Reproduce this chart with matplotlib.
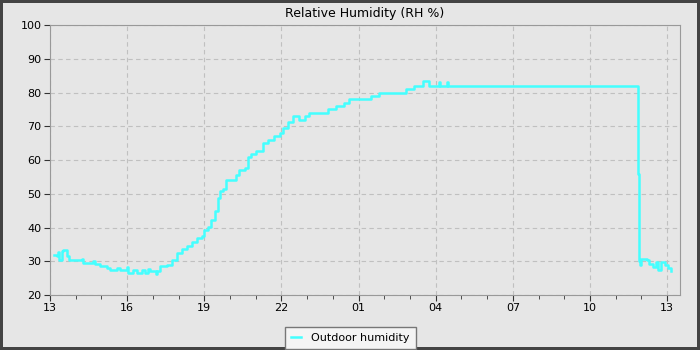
import matplotlib
matplotlib.use('Agg')
import matplotlib.pyplot as plt
from matplotlib.ticker import MultipleLocator, FuncFormatter

# hours since 13:00 and outdoor relative humidity (%)
hours = [0.16, 0.26, 0.32, 0.37, 0.45, 0.5, 0.65, 0.75, 1.23, 1.3, 1.69, 1.75, 1.95, 2.2,
         2.33, 2.6, 2.72, 2.98, 3.05, 3.24, 3.37, 3.57, 3.7, 3.83, 3.89, 4.13, 4.17, 4.28,
         4.54, 4.73, 4.93, 5.12, 5.32, 5.51, 5.7, 5.9, 5.99, 6.14, 6.27, 6.4, 6.53, 6.6,
         6.73, 6.86, 7.05, 7.24, 7.37, 7.57,
         7.7, 7.83, 8.02, 8.28, 8.47, 8.73, 8.93, 9.06, 9.25, 9.44, 9.64, 9.7, 9.9, 10.09,
         10.67, 10.8, 11.13, 11.45, 11.64, 12.42, 12.48, 12.81, 13.78, 13.84, 14.17, 14.49,
         14.75, 15.12, 15.16, 15.45, 15.49, 22.86, 22.88, 22.9, 22.94, 23.0, 23.2, 23.3,
         23.45, 23.56, 23.65, 23.78, 23.9, 24.04, 24.17]
humidity = [32, 31.5, 32.8, 30.3, 33, 33.3, 31.5, 30.5, 30.7, 29.5, 30, 29.2, 28.5, 28,
            27.5, 28, 27.5, 28.2, 26.5, 27.3, 26.5, 27.3, 26.5, 27.7, 27, 26.3, 27, 28.5,
            29, 30.4, 32.4, 33.5, 34.4, 35.7, 37, 37.5, 39.3, 40.3, 42.3, 44.8, 48.7, 50.7,
            51.5, 54.2, 54, 55.6, 57, 57.5,
            61, 61.8, 62.8, 65, 66, 67, 68, 69.4, 71.4, 73, 73, 72, 73, 74,
            74, 75, 76, 77, 78, 78, 79, 80, 80, 81, 82, 83.3,
            82, 83, 82, 83, 82, 82, 56, 30, 29, 30.7, 30.4, 29.1,
            28.4, 29.7, 27.4, 29.7, 28.9, 27.9, 27.1]

fig = plt.figure(figsize=(7, 3.5), dpi=100, facecolor='#e6e6e6',
                 edgecolor='#444444', linewidth=3)
ax = fig.add_axes([0.0714, 0.157, 0.9, 0.7716], facecolor='#e6e6e6')

ax.plot(hours, humidity, color='#44ffff', linewidth=1.8, drawstyle='steps-post',
        label='Outdoor humidity')

ax.set_xlim(0, 24.5)
ax.set_ylim(20, 100)
ax.xaxis.set_major_locator(MultipleLocator(3))
ax.xaxis.set_minor_locator(MultipleLocator(1))
ax.xaxis.set_major_formatter(FuncFormatter(lambda h, p: '%02d' % ((13 + int(round(h))) % 24)))
ax.yaxis.set_major_locator(MultipleLocator(10))

ax.grid(True, which='major', color='#c0c0c0', linestyle=(0, (4, 3)), linewidth=0.8)
for s in ax.spines.values():
    s.set_color('#999999')
ax.tick_params(which='major', length=4, color='#333333', labelsize=8, pad=2)
ax.tick_params(which='minor', length=3, color='#333333')

ax.set_title('Relative Humidity (RH %)', fontsize=9, pad=6)
# legend sits centred on the figure, not the axes
ax.legend(loc='upper center', bbox_to_anchor=(0.477, -0.117), fontsize=8, frameon=True,
          fancybox=False, edgecolor='#777777', facecolor='#f4f4f4', framealpha=1,
          handlelength=0.9, handletextpad=0.9, borderpad=0.55, borderaxespad=0)

fig.savefig('out.png', dpi=100, facecolor=fig.get_facecolor(), edgecolor=fig.get_edgecolor())
